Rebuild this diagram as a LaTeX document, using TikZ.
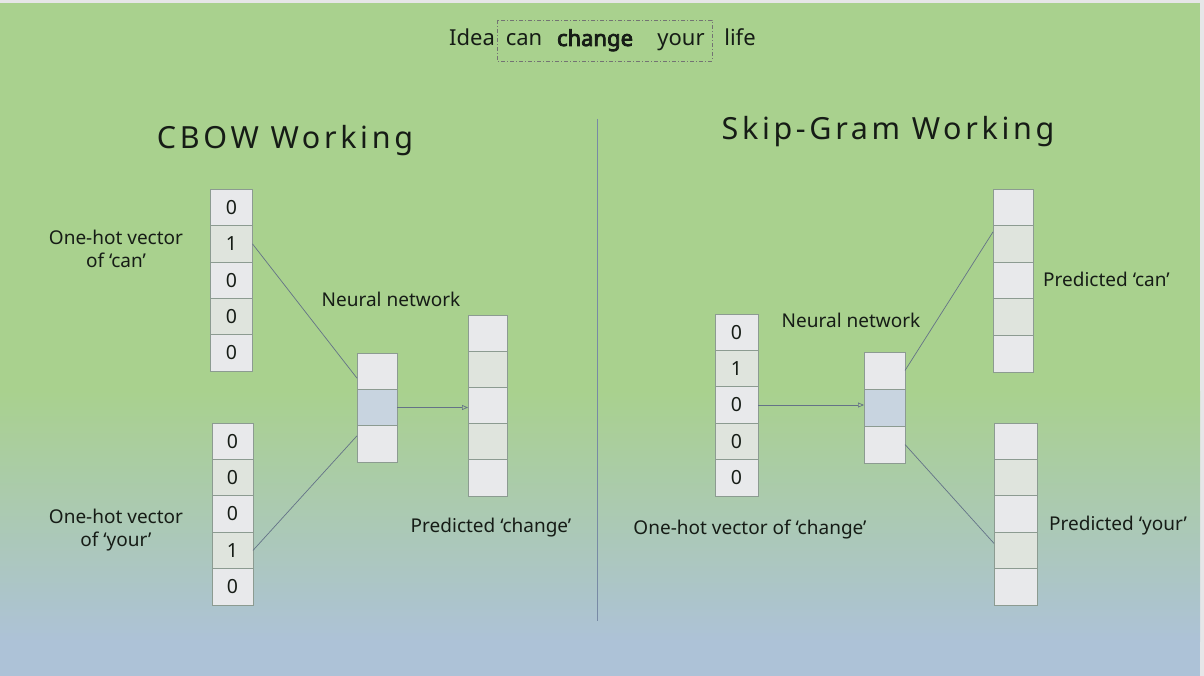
\documentclass[tikz,border=0pt]{standalone}
\usepackage{fontspec}
\setmainfont{Noto Sans}
\newfontfamily\spacedfont[LetterSpace=12]{Noto Sans}
\newfontfamily\fakeboldfont[FakeBold=3.5]{Noto Sans}
\usetikzlibrary{arrows.meta,calc}
\definecolor{bggreen}{RGB}{169,209,142}
\definecolor{bgblue}{RGB}{173,194,215}
\definecolor{stripgrey}{RGB}{230,230,232}
\definecolor{cellplain}{RGB}{232,233,235}
\definecolor{celldotc}{RGB}{223,228,221}
\definecolor{cellblue}{RGB}{200,212,224}
\definecolor{cellborder}{RGB}{140,155,145}
\definecolor{linkc}{RGB}{100,114,135}
\definecolor{dividerc}{RGB}{120,138,165}
\definecolor{txt}{RGB}{22,28,22}
\begin{document}
\begin{tikzpicture}[x=1pt,y=-1pt,
  cellbase/.style={draw=cellborder, line width=0.7pt, inner sep=0pt, outer sep=0pt,
     text=txt, font=\fontsize{19.5}{19.5}\selectfont},
  pc/.style={cellbase, fill=cellplain},
  dc/.style={cellbase, fill=celldotc},
  bc/.style={cellbase, fill=cellblue},
  lbl/.style={text=txt, font=\fontsize{19}{23}\selectfont, align=center, inner sep=0pt},
  ttl/.style={text=txt, font=\fontsize{22}{26}\selectfont, inner sep=0pt, anchor=base},
  head/.style={text=txt, font=\spacedfont\fontsize{30.5}{34}\selectfont, inner sep=0pt},
  link/.style={draw=linkc, line width=0.7pt},
  arr/.style={draw=linkc, line width=0.7pt, -{Triangle[open,length=6pt,width=5pt]}}
]
\useasboundingbox (0,0) rectangle (1204,676);
% background
\fill[stripgrey] (0,0) rectangle (1204,676);
\fill[bggreen] (0,3) rectangle (1200,392);
\shade[top color=bggreen, bottom color=bgblue] (0,391) rectangle (1200,641);
\fill[bgblue] (0,640) rectangle (1200,676);

% title sentence
\node[ttl] (w1) at (472,46) {Idea};
\node[ttl] (w2) at (524,46) {can};
\node[ttl, font=\fakeboldfont\fontsize{22}{26}\selectfont] (w3) at (595,46) {change};
\node[ttl] (w4) at (681,46) {your};
\node[ttl] (w5) at (740,46) {life};
\draw[draw=black!55, line width=0.6pt, dash pattern=on 4pt off 2pt on 1pt off 2pt] (497,20) rectangle (712,61);

% divider
\draw[draw=dividerc, line width=1pt] (597,119) -- (597,621);

% headings
\node[head] (hl) at (285,141) {CBOW Working};
\node[head] (hr) at (888,132) {Skip-Gram Working};

% ---------- CBOW ----------
\begin{scope}[every node/.append style={minimum width=42, minimum height=36.3}]
\node[pc] (a1) at (231.5,207.6) {0};
\node[dc] (a2) at (231.5,243.9) {1};
\node[pc] (a3) at (231.5,280.2) {0};
\node[dc] (a4) at (231.5,316.5) {0};
\node[pc] (a5) at (231.5,352.8) {0};
\end{scope}
\begin{scope}[every node/.append style={minimum width=41, minimum height=36.4}]
\node[pc] (b1) at (232.5,441.2) {0};
\node[dc] (b2) at (232.5,477.6) {0};
\node[pc] (b3) at (232.5,514.0) {0};
\node[dc] (b4) at (232.5,550.4) {1};
\node[pc] (b5) at (232.5,586.8) {0};
\end{scope}
\begin{scope}[every node/.append style={minimum width=40, minimum height=36.3}]
\node[pc] (h11) at (377,371.2) {};
\node[bc] (h12) at (377,407.5) {};
\node[pc] (h13) at (377,443.8) {};
\end{scope}
\begin{scope}[every node/.append style={minimum width=39, minimum height=36.2}]
\node[pc] (o1) at (487.5,333.1) {};
\node[dc] (o2) at (487.5,369.3) {};
\node[pc] (o3) at (487.5,405.5) {};
\node[dc] (o4) at (487.5,441.7) {};
\node[pc] (o5) at (487.5,477.9) {};
\end{scope}

\node[lbl] (la) at (116,248.5) {One-hot vector\\of ‘can’};
\node[lbl] (lb) at (116,530.5) {One-hot vector\\of ‘your’};
\node[lbl] (ln1) at (391,299) {Neural network};
\node[lbl] (lo1) at (491,528) {Predicted ‘change’};

\draw[link] (a2.east) -- ([yshift=-7pt]h11.west);
\draw[link] (b4.east) -- ([yshift=8pt]h13.west);
\draw[arr] (h12.east) -- (h12.east -| o3.west);

% ---------- Skip-Gram ----------
\begin{scope}[every node/.append style={minimum width=43, minimum height=36.4}]
\node[pc] (r1) at (736.5,332.2) {0};
\node[dc] (r2) at (736.5,368.6) {1};
\node[pc] (r3) at (736.5,405.0) {0};
\node[dc] (r4) at (736.5,441.4) {0};
\node[pc] (r5) at (736.5,477.8) {0};
\end{scope}
\begin{scope}[every node/.append style={minimum width=41, minimum height=37}]
\node[pc] (h21) at (884.5,370.5) {};
\node[bc] (h22) at (884.5,407.5) {};
\node[pc] (h23) at (884.5,444.5) {};
\end{scope}
\begin{scope}[every node/.append style={minimum width=40, minimum height=36.6}]
\node[pc] (p11) at (1013,207.3) {};
\node[dc] (p12) at (1013,243.9) {};
\node[pc] (p13) at (1013,280.5) {};
\node[dc] (p14) at (1013,317.1) {};
\node[pc] (p15) at (1013,353.7) {};
\end{scope}
\begin{scope}[every node/.append style={minimum width=43, minimum height=36.4}]
\node[pc] (p21) at (1015.5,441.2) {};
\node[dc] (p22) at (1015.5,477.6) {};
\node[pc] (p23) at (1015.5,514.0) {};
\node[dc] (p24) at (1015.5,550.4) {};
\node[pc] (p25) at (1015.5,586.8) {};
\end{scope}

\node[lbl] (ln2) at (851,320) {Neural network};
\node[lbl] (lr) at (750,530) {One-hot vector of ‘change’};
\node[lbl, anchor=west] (lp1) at (1043,279) {Predicted ‘can’};
\node[lbl, anchor=west] (lp2) at (1049,526) {Predicted ‘your’};

\draw[arr] (r3.east) -- (r3.east -| h22.west);
\draw[link] (h21.east) -- ([yshift=12pt]p12.west);
\draw[link] (h23.east) -- ([yshift=7pt]p24.west);
\end{tikzpicture}
\end{document}
